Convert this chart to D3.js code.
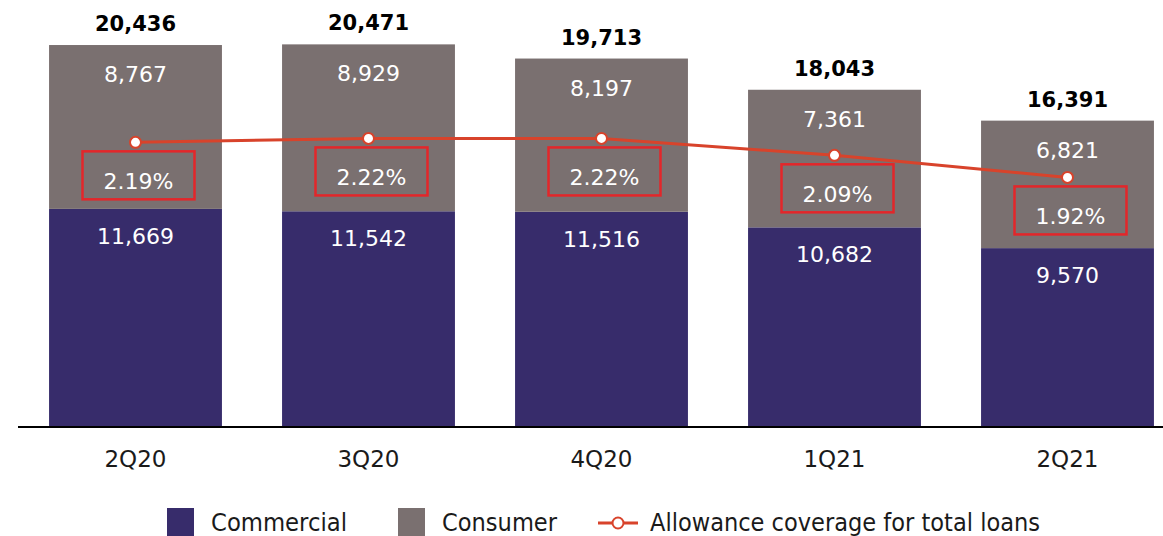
<!DOCTYPE html>
<html>
<head>
<meta charset="utf-8">
<script src="https://cdn.jsdelivr.net/npm/d3@7"></script>
<style>
  body { margin: 0; background: #fff; }
  text { font-family: "DejaVu Sans", "Noto Sans", sans-serif; }
  .legend text { font-family: "DejaVu Sans Condensed", "DejaVu Sans", sans-serif; font-stretch: condensed; }
</style>
</head>
<body>
<div id="chart"></div>
<script>
// chart data
var quarters = ["2Q20", "3Q20", "4Q20", "1Q21", "2Q21"];
var commercial = [11669, 11542, 11516, 10682, 9570];
var consumer = [8767, 8929, 8197, 7361, 6821];
var totals = [20436, 20471, 19713, 18043, 16391];
var coverage = [2.19, 2.22, 2.22, 2.09, 1.92];
var legendLabels = ["Commercial", "Consumer", "Allowance coverage for total loans"];

var width = 1163,
    height = 536,
    baseY = 427;

var colCommercial = "#372c6b",
    colConsumer = "#7a7070",
    colLine = "#d8432b",
    colBox = "#e3262a";

var svg = d3.select("#chart").append("svg")
  .attr("width", width)
  .attr("height", height);

var x = d3.scaleBand()
  .domain(quarters)
  .range([19, 1184])
  .paddingInner(0.258)
  .paddingOuter(0.129);

var y = d3.scaleLinear()
  .domain([0, 22845])
  .range([baseY, 0]);

// coverage % on its own scale
var y2 = d3.scaleLinear()
  .domain([0, 3.285])
  .range([baseY, 0]);

var fmt = d3.format(",");

var rows = quarters.map(function(q, i) {
  return { q: q, com: commercial[i], con: consumer[i], tot: totals[i], cov: coverage[i] };
});

var bars = svg.append("g").selectAll("g")
  .data(rows)
  .enter().append("g");

// commercial segment
bars.append("rect")
  .attr("x", function(d) { return x(d.q); })
  .attr("width", x.bandwidth())
  .attr("y", function(d) { return y(d.com); })
  .attr("height", function(d) { return baseY - y(d.com); })
  .attr("fill", colCommercial);

// consumer segment on top
bars.append("rect")
  .attr("x", function(d) { return x(d.q); })
  .attr("width", x.bandwidth())
  .attr("y", function(d) { return y(d.com + d.con); })
  .attr("height", function(d) { return y(d.com) - y(d.com + d.con); })
  .attr("fill", colConsumer);

bars.append("text")
  .attr("x", function(d) { return x(d.q) + x.bandwidth() / 2; })
  .attr("y", function(d) { return y(d.com) + 35; })
  .attr("text-anchor", "middle")
  .attr("fill", "#fff")
  .attr("font-size", 22)
  .text(function(d) { return fmt(d.com); });

bars.append("text")
  .attr("x", function(d) { return x(d.q) + x.bandwidth() / 2; })
  .attr("y", function(d) { return y(d.com + d.con) + 37; })
  .attr("text-anchor", "middle")
  .attr("fill", "#fff")
  .attr("font-size", 22)
  .text(function(d) { return fmt(d.con); });

// totals
bars.append("text")
  .attr("x", function(d) { return x(d.q) + x.bandwidth() / 2; })
  .attr("y", function(d) { return y(d.tot) - 14; })
  .attr("text-anchor", "middle")
  .attr("fill", "#000")
  .attr("font-weight", "bold")
  .attr("font-size", 21)
  .text(function(d) { return fmt(d.tot); });

// boxed percentage labels
bars.append("rect")
  .attr("x", function(d) { return x(d.q) + x.bandwidth() / 2 - 53; })
  .attr("y", function(d) { return y2(d.cov) + 9; })
  .attr("width", 112)
  .attr("height", 48)
  .attr("fill", "none")
  .attr("stroke", colBox)
  .attr("stroke-width", 2.5);

bars.append("text")
  .attr("x", function(d) { return x(d.q) + x.bandwidth() / 2 + 3; })
  .attr("y", function(d) { return y2(d.cov) + 47; })
  .attr("text-anchor", "middle")
  .attr("fill", "#fff")
  .attr("font-size", 22)
  .text(function(d) { return d.cov.toFixed(2) + "%"; });

// coverage line
var line = d3.line()
  .x(function(d) { return x(d.q) + x.bandwidth() / 2; })
  .y(function(d) { return y2(d.cov); });

svg.append("path")
  .datum(rows)
  .attr("d", line)
  .attr("fill", "none")
  .attr("stroke", colLine)
  .attr("stroke-width", 3);

svg.append("g").selectAll("circle")
  .data(rows)
  .enter().append("circle")
  .attr("cx", function(d) { return x(d.q) + x.bandwidth() / 2; })
  .attr("cy", function(d) { return y2(d.cov); })
  .attr("r", 5.5)
  .attr("fill", "#fff")
  .attr("stroke", colLine)
  .attr("stroke-width", 2);

// x axis
svg.append("line")
  .attr("x1", 18).attr("x2", width)
  .attr("y1", baseY).attr("y2", baseY)
  .attr("stroke", "#000")
  .attr("stroke-width", 2);

svg.append("g").selectAll("text")
  .data(quarters)
  .enter().append("text")
  .attr("x", function(d) { return x(d) + x.bandwidth() / 2; })
  .attr("y", 467)
  .attr("text-anchor", "middle")
  .attr("fill", "#1a1a1a")
  .attr("font-size", 23)
  .text(function(d) { return d; });

// legend
var legend = svg.append("g").attr("class", "legend");

legend.append("rect")
  .attr("x", 167).attr("y", 508).attr("width", 27).attr("height", 28)
  .attr("fill", colCommercial);
legend.append("text")
  .attr("x", 211).attr("y", 531)
  .attr("font-size", 24).attr("fill", "#1a1a1a")
  .attr("textLength", 136).attr("lengthAdjust", "spacingAndGlyphs")
  .text(legendLabels[0]);

legend.append("rect")
  .attr("x", 398).attr("y", 508).attr("width", 27).attr("height", 28)
  .attr("fill", colConsumer);
legend.append("text")
  .attr("x", 442).attr("y", 531)
  .attr("font-size", 24).attr("fill", "#1a1a1a")
  .attr("textLength", 115).attr("lengthAdjust", "spacingAndGlyphs")
  .text(legendLabels[1]);

legend.append("line")
  .attr("x1", 598).attr("x2", 638).attr("y1", 523).attr("y2", 523)
  .attr("stroke", colLine).attr("stroke-width", 3);
legend.append("circle")
  .attr("cx", 618).attr("cy", 523).attr("r", 5.5)
  .attr("fill", "#fff").attr("stroke", colLine).attr("stroke-width", 2);
legend.append("text")
  .attr("x", 650).attr("y", 531)
  .attr("font-size", 24).attr("fill", "#1a1a1a")
  .attr("textLength", 390).attr("lengthAdjust", "spacingAndGlyphs")
  .text(legendLabels[2]);
</script>
</body>
</html>
